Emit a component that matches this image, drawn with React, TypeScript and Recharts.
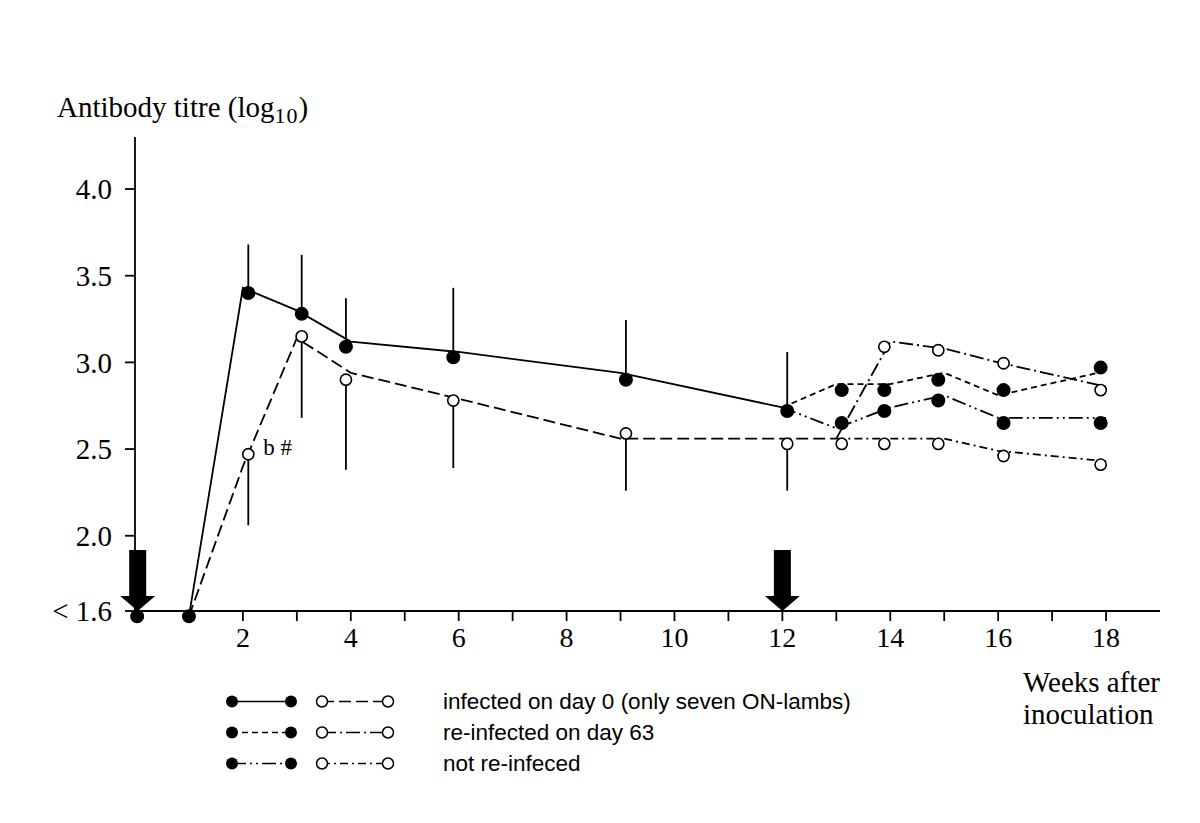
import { ComposedChart, Line, XAxis, YAxis, ErrorBar, ReferenceDot } from "recharts";

const SERIF = "'Liberation Serif', 'Times New Roman', serif";
const SANS = "'Liberation Sans', Arial, sans-serif";
const INK = "#000";
const SW = 1.8;

const AXIS_MIN = 1.566; // drawn as "< 1.6"
const BELOW = 1.535; // below detection limit, sits just under the axis

// mean curves (weeks after inoculation, log10 titre)
const day0Weeks = [1, 2, 3, 4, 6, 9, 12];
const day0FilledLine = [BELOW, 3.43, 3.3, 3.12, 3.06, 2.94, 2.74];
const day0OpenWeeks = [1, 2, 3, 4, 6, 9, 12, 13];
const day0OpenLine = [BELOW, 2.4, 3.14, 2.94, 2.79, 2.56, 2.56, 2.56];
const lateFilledWeeks = [12, 13, 14, 15, 16, 18];
const reinfFilledLine = [2.74, 2.875, 2.875, 2.94, 2.81, 2.95];
const notReinfFilledLine = [2.74, 2.62, 2.74, 2.81, 2.68, 2.68];
const lateOpenWeeks = [13, 14, 15, 16, 18];
const reinfOpenLine = [2.56, 3.12, 3.08, 3.0, 2.86];
const notReinfOpenLine = [2.56, 2.56, 2.56, 2.49, 2.43];

// markers, a bit offset from the curve vertices like in the original figure
const belowLimitWeeks = [0.04, 1.0];
const day0FilledDotWeeks = [2.1, 3.09, 3.91, 5.9, 9.1, 12.09];
const day0FilledDots = [3.4, 3.28, 3.09, 3.03, 2.9, 2.72];
const day0FilledSd = [0.28, 0.34, 0.28, 0.4, 0.345, 0.34];
const day0OpenDotWeeks = [2.1, 3.09, 3.91, 5.9, 9.1, 12.09];
const day0OpenDots = [2.47, 3.15, 2.9, 2.78, 2.59, 2.53];
const day0OpenSd = [0.41, 0.47, 0.52, 0.39, 0.33, 0.27];
const lateDotWeeks = [13.1, 13.89, 14.89, 16.1, 17.9];
const reinfFilledDots = [2.84, 2.84, 2.9, 2.84, 2.97];
const notReinfFilledDots = [2.65, 2.72, 2.78, 2.65, 2.65];
const reinfOpenDotWeeks = [13.89, 14.89, 16.1, 17.9];
const reinfOpenDots = [3.09, 3.07, 2.995, 2.84];
const notReinfOpenDots = [2.53, 2.53, 2.53, 2.46, 2.41];

const arrowWeeks = [0.05, 12];
const xTicks = [0, 1, 2, 3, 4, 5, 6, 7, 8, 9, 10, 11, 12, 13, 14, 15, 16, 17, 18];
const yTicks = [AXIS_MIN, 2, 2.5, 3, 3.5, 4];

const legendLabels = [
  "infected on day 0 (only seven ON-lambs)",
  "re-infected on day 63",
  "not re-infeced",
];
const filledDash = [undefined, "6 4", "14 4 2 4 2 4"];
const openDash = ["12 5", "14 4 2 4", "8 4 2 4"];

const pts = (xs: number[], ys: number[], up?: number[], down?: number[]) =>
  xs.map((x, i) => ({ x, y: ys[i], err: [down ? down[i] : 0, up ? up[i] : 0] }));

function curve(key: string, data: any[], dash?: string) {
  return (
    <Line
      key={key}
      data={data}
      dataKey="y"
      stroke={INK}
      strokeWidth={SW}
      strokeDasharray={dash}
      dot={false}
      activeDot={false}
      legendType="none"
      isAnimationActive={false}
    />
  );
}

function markers(key: string, data: any[], filled: boolean, withErr: boolean) {
  return (
    <Line
      key={key}
      data={data}
      dataKey="y"
      stroke="none"
      dot={{ r: filled ? 6.2 : 5.6, fill: filled ? INK : "#fff", stroke: INK, strokeWidth: 1.6, clipDot: false }}
      activeDot={false}
      legendType="none"
      isAnimationActive={false}
    >
      {withErr && (
        <ErrorBar dataKey="err" direction="y" width={0} stroke={INK} strokeWidth={SW} isAnimationActive={false} />
      )}
    </Line>
  );
}

const Arrow = ({ cx, cy }: any) => (
  <polygon
    points={`${cx},${cy} ${cx - 17.5},${cy - 15} ${cx - 8.5},${cy - 15} ${cx - 8.5},${cy - 61} ${cx + 8.5},${cy - 61} ${cx + 8.5},${cy - 15} ${cx + 17.5},${cy - 15}`}
    fill={INK}
  />
);

function LegendBlock() {
  return (
    <div style={{ position: "absolute", left: 218, top: 686, fontFamily: SANS, fontSize: 22.5, color: INK }}>
      {legendLabels.map((label, i) => (
        <div key={label} style={{ display: "flex", alignItems: "center", height: 31 }}>
          <svg width={225} height={31}>
            <line x1={14} x2={73} y1={15.5} y2={15.5} stroke={INK} strokeWidth={1.6} strokeDasharray={filledDash[i]} />
            <circle cx={14} cy={15.5} r={6} fill={INK} />
            <circle cx={73} cy={15.5} r={6} fill={INK} />
            <line x1={104} x2={170} y1={15.5} y2={15.5} stroke={INK} strokeWidth={1.6} strokeDasharray={openDash[i]} />
            <circle cx={104} cy={15.5} r={5.5} fill="#fff" stroke={INK} strokeWidth={1.5} />
            <circle cx={170} cy={15.5} r={5.5} fill="#fff" stroke={INK} strokeWidth={1.5} />
          </svg>
          <span style={{ whiteSpace: "nowrap" }}>{label}</span>
        </div>
      ))}
    </div>
  );
}

export default function App() {
  return (
    <div style={{ position: "absolute", left: 0, top: 0, width: 1200, height: 823, background: "#fff" }}>
      <div
        style={{ position: "absolute", left: 57, top: 93, fontFamily: SERIF, fontSize: 29, lineHeight: "29px", whiteSpace: "nowrap", color: INK }}
      >
        Antibody titre (log<span style={{ fontSize: 22, position: "relative", top: 6, letterSpacing: 1 }}>10</span>)
      </div>
      <ComposedChart width={1200} height={823} margin={{ top: 137, right: 40, bottom: 182, left: 0 }}>
        <XAxis
          dataKey="x"
          type="number"
          domain={[0, 19]}
          ticks={xTicks}
          interval={0}
          tickFormatter={(v: number) => (v > 0 && v % 2 === 0 ? String(v) : "")}
          height={30}
          tickSize={10}
          tickMargin={6}
          axisLine={{ stroke: INK, strokeWidth: SW }}
          tickLine={{ stroke: INK, strokeWidth: SW }}
          tick={{ fill: INK, fontSize: 28, fontFamily: SERIF }}
        />
        <YAxis
          type="number"
          domain={[AXIS_MIN, 4.3]}
          allowDataOverflow
          ticks={yTicks}
          interval={0}
          tickFormatter={(v: number) => (v < 1.7 ? "< 1.6" : v.toFixed(1))}
          width={135}
          tickSize={10}
          tickMargin={13}
          axisLine={{ stroke: INK, strokeWidth: SW }}
          tickLine={{ stroke: INK, strokeWidth: SW }}
          tick={{ fill: INK, fontSize: 29, fontFamily: SERIF }}
        />
        {curve("d0f", pts(day0Weeks, day0FilledLine))}
        {curve("d0o", pts(day0OpenWeeks, day0OpenLine), openDash[0])}
        {curve("rf", pts(lateFilledWeeks, reinfFilledLine), filledDash[1])}
        {curve("nf", pts(lateFilledWeeks, notReinfFilledLine), filledDash[2])}
        {curve("ro", pts(lateOpenWeeks, reinfOpenLine), openDash[1])}
        {curve("no", pts(lateOpenWeeks, notReinfOpenLine), openDash[2])}
        {markers("m-d0o", pts(day0OpenDotWeeks, day0OpenDots, undefined, day0OpenSd), false, true)}
        {markers("m-d0f", pts(day0FilledDotWeeks, day0FilledDots, day0FilledSd), true, true)}
        {markers("m-no", pts(lateDotWeeks, notReinfOpenDots), false, false)}
        {markers("m-ro", pts(reinfOpenDotWeeks, reinfOpenDots), false, false)}
        {markers("m-rf", pts(lateDotWeeks, reinfFilledDots), true, false)}
        {markers("m-nf", pts(lateDotWeeks, notReinfFilledDots), true, false)}
        {arrowWeeks.map((w) => (
          <ReferenceDot key={"a" + w} x={w} y={AXIS_MIN} ifOverflow="visible" shape={Arrow} />
        ))}
        {belowLimitWeeks.map((w) => (
          <ReferenceDot key={"b" + w} x={w} y={BELOW} r={6.2} fill={INK} stroke={INK} strokeWidth={1.6} ifOverflow="visible" />
        ))}
        <ReferenceDot
          x={day0OpenDotWeeks[0]}
          y={day0OpenDots[0]}
          ifOverflow="visible"
          shape={({ cx, cy }: any) => (
            <text x={cx + 15} y={cy + 1} fontFamily={SERIF} fontSize={23} fill={INK}>
              b #
            </text>
          )}
        />
      </ComposedChart>
      <LegendBlock />
      <div
        style={{ position: "absolute", left: 1023, top: 666, fontFamily: SERIF, fontSize: 29, lineHeight: "32px", color: INK }}
      >
        Weeks after
        <br />
        inoculation
      </div>
    </div>
  );
}
